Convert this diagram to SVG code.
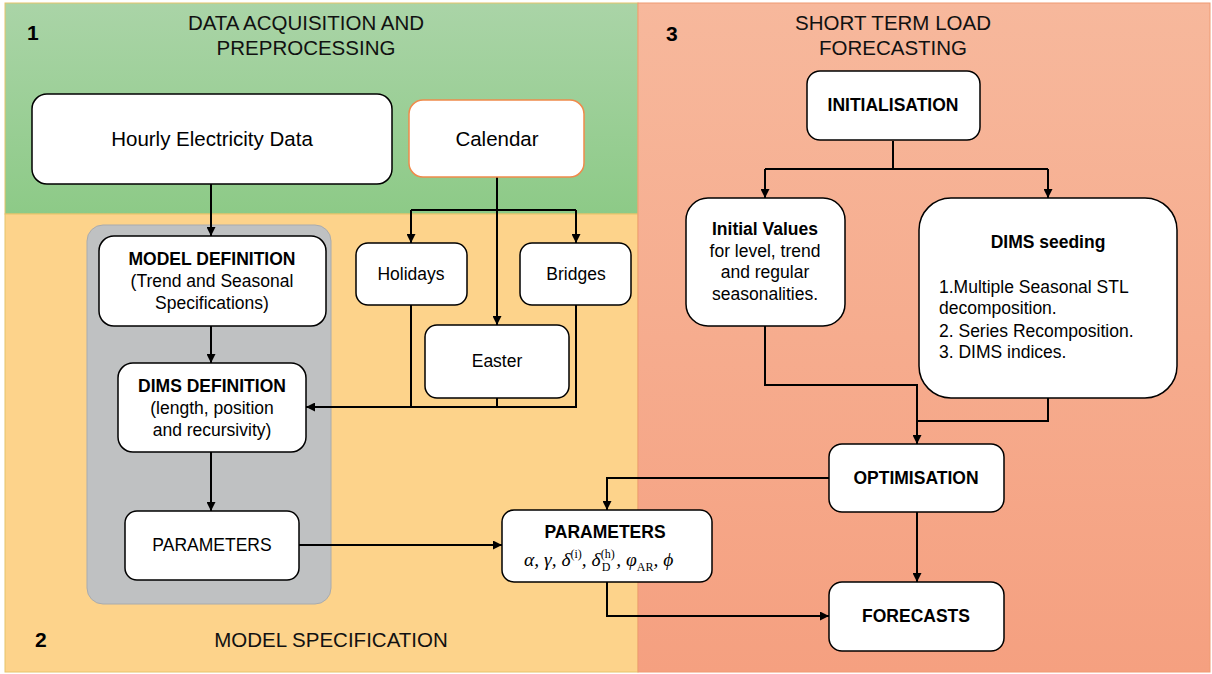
<svg xmlns="http://www.w3.org/2000/svg" width="1212" height="674" viewBox="0 0 1212 674">
<defs>
<linearGradient id="gGreen" x1="0" y1="0" x2="0" y2="1"><stop offset="0" stop-color="#aad4a7"/><stop offset="1" stop-color="#8dca87"/></linearGradient>
<linearGradient id="gSalmon" x1="0" y1="0" x2="0" y2="1"><stop offset="0" stop-color="#f7b89c"/><stop offset="1" stop-color="#f5a080"/></linearGradient>
<marker id="arr" viewBox="0 0 10 10" refX="10" refY="5" markerWidth="9" markerHeight="9" markerUnits="userSpaceOnUse" orient="auto"><path d="M0,0 L10,5 L0,10 z" fill="#000"/></marker>
<style>
.box{fill:#fff;stroke:#000;stroke-width:1.5}
.t{font-family:"Liberation Sans",Arial,sans-serif;fill:#000;text-anchor:middle}
.title{font-size:20.5px;fill:#111}
.num{font-size:21px;font-weight:bold;text-anchor:start}
.big{font-size:20.5px}
.med{font-size:17.5px}
.b{font-weight:bold}
.c{fill:none;stroke:#000;stroke-width:2}
.a{marker-end:url(#arr)}
.m{font-family:"Liberation Serif","DejaVu Serif",serif;fill:#000}
.s{font-size:12px;font-style:normal;fill:#000}
</style>
</defs>
<g id="panels">
<rect x="5" y="3" width="633" height="211" fill="url(#gGreen)" stroke="#e6c36a" stroke-width="1"/>
<rect x="5" y="214" width="633" height="458" fill="#fdd38b" stroke="#e6c36a" stroke-width="1"/>
<rect x="638" y="3" width="572" height="669" fill="url(#gSalmon)" stroke="#ef9a72" stroke-width="1"/>
<rect id="modelGroup" x="87" y="225" width="244" height="379" rx="16" fill="#bfc1c2" stroke="#a9abad" stroke-width="1"/>
</g>
<g id="labels">
<text class="t num" x="27" y="40">1</text>
<text class="t title" x="306" y="30">DATA ACQUISITION AND</text>
<text class="t title" x="306" y="55">PREPROCESSING</text>
<text class="t num" x="35" y="647">2</text>
<text class="t title" x="331" y="647">MODEL SPECIFICATION</text>
<text class="t num" x="666" y="41">3</text>
<text class="t title" x="893" y="30">SHORT TERM LOAD</text>
<text class="t title" x="893" y="55">FORECASTING</text>
</g>
<g id="connectors">
<path class="c a" d="M211,184 V236"/>
<path class="c a" d="M211,326 V363"/>
<path class="c a" d="M211,452 V511"/>
<path class="c a" d="M299,545 H502"/>
<path class="c a" d="M497,177 V325"/>
<path class="c" d="M411,210 H576"/>
<path class="c a" d="M411,210 V243"/>
<path class="c a" d="M576,210 V243"/>
<path class="c" d="M411,305 V407"/>
<path class="c" d="M497,398 V407"/>
<path class="c a" d="M576,305 V407 H306"/>
<path class="c" d="M893,141 V169"/>
<path class="c" d="M765,169 H1048"/>
<path class="c a" d="M765,169 V198"/>
<path class="c a" d="M1048,169 V198"/>
<path class="c a" d="M765,326 V385 H917 V444"/>
<path class="c" d="M1048,398 V421 H917"/>
<path class="c a" d="M829,478 H607 V510"/>
<path class="c a" d="M607,582 V616 H829"/>
<path class="c a" d="M917,512 V582"/>
</g>
<g id="hourly">
<rect class="box" x="32" y="94" width="360" height="90" rx="15"/>
<text class="t big" x="212" y="146">Hourly Electricity Data</text>
</g>
<g id="calendar">
<rect x="409" y="100" width="175" height="77" rx="14" fill="#fff" stroke="#f08a4b" stroke-width="1.5"/>
<text class="t big" x="497" y="146">Calendar</text>
</g>
<g id="modelDefinition">
<rect class="box" x="99" y="236" width="227" height="90" rx="15"/>
<text class="t med b" x="212" y="265">MODEL DEFINITION</text>
<text class="t med" x="212" y="287">(Trend and Seasonal</text>
<text class="t med" x="212" y="309">Specifications)</text>
</g>
<g id="dimsDefinition">
<rect class="box" x="118" y="363" width="188" height="89" rx="15"/>
<text class="t med b" x="212" y="392">DIMS DEFINITION</text>
<text class="t med" x="212" y="414">(length, position</text>
<text class="t med" x="212" y="436">and recursivity)</text>
</g>
<g id="parametersLeft">
<rect class="box" x="125" y="511" width="174" height="69" rx="12"/>
<text class="t med" x="212" y="551">PARAMETERS</text>
</g>
<g id="holidays">
<rect class="box" x="356" y="243" width="111" height="62" rx="12"/>
<text class="t med" x="411" y="280">Holidays</text>
</g>
<g id="bridges">
<rect class="box" x="520" y="243" width="111" height="62" rx="12"/>
<text class="t med" x="576" y="280">Bridges</text>
</g>
<g id="easter">
<rect class="box" x="425" y="325" width="144" height="73" rx="12"/>
<text class="t med" x="497" y="367">Easter</text>
</g>
<g id="parametersRight">
<rect class="box" x="502" y="510" width="210" height="72" rx="12"/>
<text class="t med b" x="605" y="538">PARAMETERS</text>
<text class="m" x="524" y="566" font-size="19.5" font-style="italic">α, γ, δ<tspan class="s" dy="-8">(i)</tspan><tspan dy="8">, δ</tspan><tspan class="s" dy="-8">(h)</tspan><tspan class="s" font-size="10" dx="-13" dy="13">D</tspan><tspan dx="6" dy="-5">, φ</tspan><tspan class="s" font-size="11" dy="5">AR</tspan><tspan dy="-5">, ϕ</tspan></text>
</g>
<g id="initialisation">
<rect class="box" x="807" y="71" width="173" height="69" rx="13"/>
<text class="t med b" x="893" y="111">INITIALISATION</text>
</g>
<g id="initialValues">
<rect class="box" x="686" y="198" width="159" height="128" rx="22"/>
<text class="t med b" x="765" y="235">Initial Values</text>
<text class="t med" x="765" y="257">for level, trend</text>
<text class="t med" x="765" y="278">and regular</text>
<text class="t med" x="765" y="300">seasonalities.</text>
</g>
<g id="dimsSeeding">
<rect class="box" x="919" y="198" width="258" height="200" rx="32"/>
<text class="t med b" x="1048" y="248">DIMS seeding</text>
<text class="t med" style="text-anchor:start" x="939" y="293">1.Multiple Seasonal STL</text>
<text class="t med" style="text-anchor:start" x="939" y="314">decomposition.</text>
<text class="t med" style="text-anchor:start" x="939" y="337">2. Series Recomposition.</text>
<text class="t med" style="text-anchor:start" x="939" y="358">3. DIMS indices.</text>
</g>
<g id="optimisation">
<rect class="box" x="829" y="444" width="175" height="68" rx="13"/>
<text class="t med b" x="916" y="484">OPTIMISATION</text>
</g>
<g id="forecasts">
<rect class="box" x="829" y="582" width="175" height="69" rx="13"/>
<text class="t med b" x="916" y="622">FORECASTS</text>
</g>
</svg>
